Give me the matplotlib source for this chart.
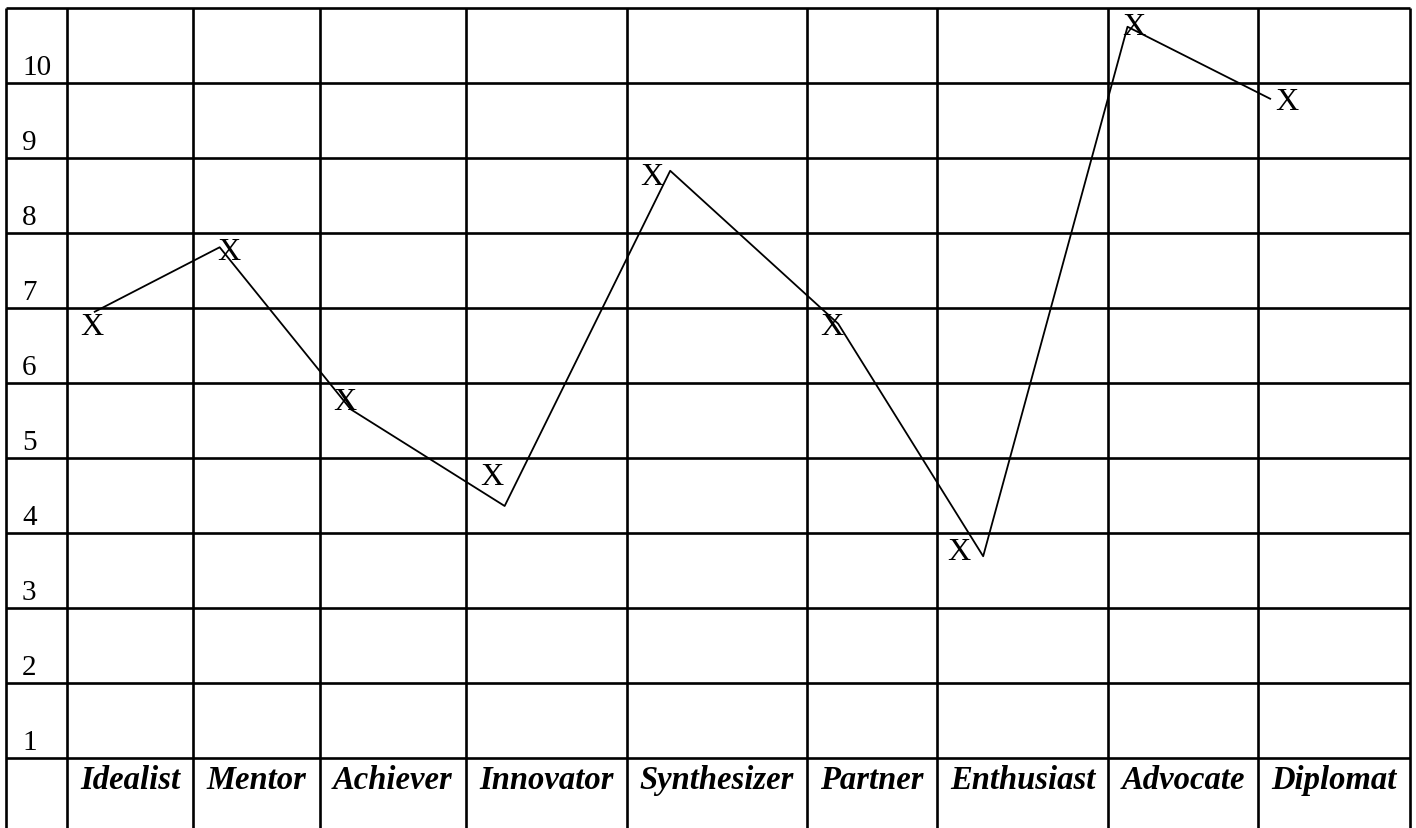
import matplotlib.pyplot as plt

# column categories and scores (one X per column)
categories = ['Idealist', 'Mentor', 'Achiever', 'Innovator', 'Synthesizer',
              'Partner', 'Enthusiast', 'Advocate', 'Diplomat']
scores = [6, 7, 5, 4, 8, 6, 3, 10, 9]
# hand-drawn connecting line
line_values = [5.95, 6.81, 4.65, 3.36, 7.83, 5.79, 2.69, 9.75, 8.79]
row_labels = [str(i) for i in range(1, 11)]

# table geometry (pixel x positions of column borders)
col_edges = [6, 67, 193, 320, 466, 627, 807, 937, 1108, 1258, 1410]
mark_pos = [0.20, 0.28, 0.17, 0.16, 0.14, 0.19, 0.13, 0.17, 0.19]
line_pos = [0.22, 0.21, 0.21, 0.24, 0.24, 0.24, 0.27, 0.13, 0.08]

plt.rcParams['font.family'] = ['Liberation Serif', 'DejaVu Serif']

fig = plt.figure(figsize=(14.16, 8.29), dpi=100)
ax = fig.add_axes([0, 0, 1, 1])
ax.set_xlim(0, 1416)
ax.set_ylim(-70 / 75, 759 / 75)
ax.axis('off')

# grid
ax.hlines(range(0, 11), col_edges[0], col_edges[-1], color='black', lw=1.9)
for x in col_edges:
    ax.vlines(x, -70 / 75, 10, color='black', lw=1.9)

# row numbers
for i, lab in enumerate(row_labels):
    ax.text(22, i + 0.12, lab, fontsize=21, ha='left', va='baseline')

# header labels
for i, cat in enumerate(categories):
    xc = (col_edges[i + 1] + col_edges[i + 2]) / 2
    ax.text(xc, -0.4, cat, fontsize=23.5, fontweight='bold', fontstyle='italic',
            ha='center', va='baseline')

# line and X marks
lx = [col_edges[i + 1] + f * (col_edges[i + 2] - col_edges[i + 1]) for i, f in enumerate(line_pos)]
ax.plot(lx, line_values, color='black', lw=1.3)
for i, s in enumerate(scores):
    mx = col_edges[i + 1] + mark_pos[i] * (col_edges[i + 2] - col_edges[i + 1])
    ax.text(mx, s - 0.25, 'X', fontsize=23, ha='center', va='center')

fig.savefig('out.png', dpi=100)
